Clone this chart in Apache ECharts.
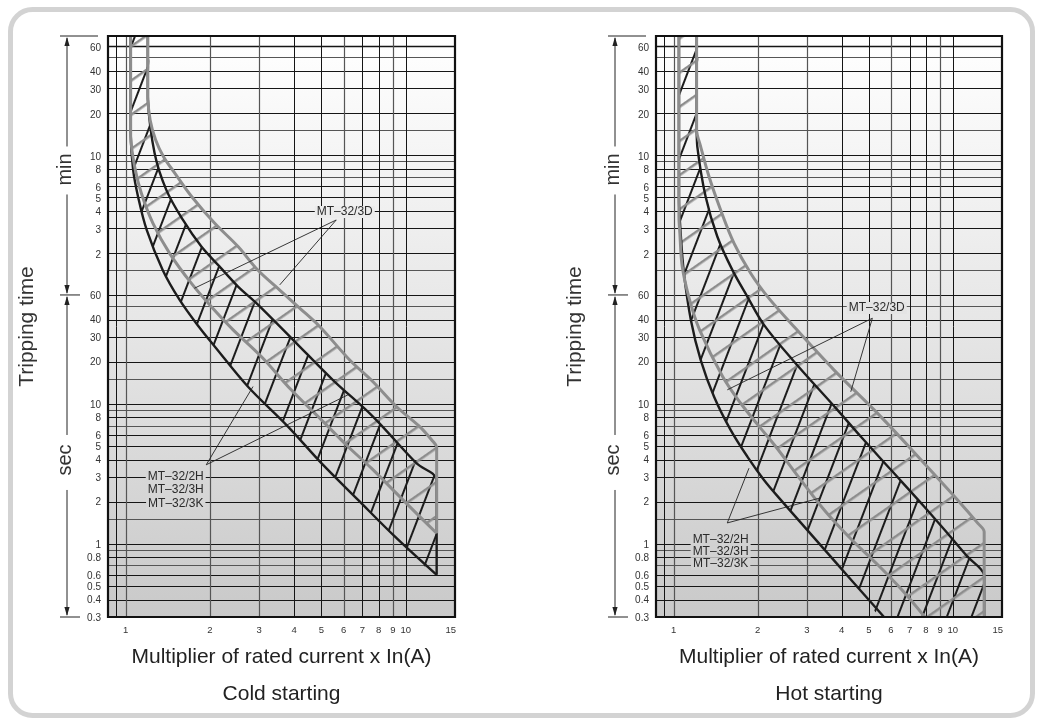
<!DOCTYPE html>
<html><head><meta charset="utf-8">
<script src="https://cdn.jsdelivr.net/npm/echarts@6/dist/echarts.min.js"></script>
<style>html,body{margin:0;padding:0;background:#fff}#c{width:1041px;height:721px}</style>
</head><body><div id="c"></div>
<script>
// ---------------- data ----------------
const panelTitles = ['Cold starting', 'Hot starting'];
const xAxisTitle = 'Multiplier of rated current x In(A)';
const yAxisTitle = 'Tripping time';
const xTicks = [1, 2, 3, 4, 5, 6, 7, 8, 9, 10, 15];
const xGridBlack = [0.925, 4, 5, 7, 8, 10];
const xGridGray = [1, 2, 3, 6, 9];
const ySecTicks = [0.3, 0.4, 0.5, 0.6, 0.8, 1, 2, 3, 4, 5, 6, 8, 10, 20, 30, 40, 60];
const ySecTickText = ['0.3', '0.4', '0.5', '0.6', '0.8', '1', '2', '3', '4', '5', '6', '8', '10', '20', '30', '40', '60'];
const yMinTicks = [2, 3, 4, 5, 6, 8, 10, 20, 30, 40, 60];          // minutes
const ySecGridGray = [0.7, 0.9, 1.5, 7, 9, 15, 50];               // seconds
const yMinGridGray = [1.5, 7, 9, 15, 50];                          // minutes

// curves: [multiplier, tripping time in seconds]
const coldBlackUpper = [[1.20,4250],[1.20,1500],[1.269,617],[1.397,338],[1.602,206],[1.864,133],[2.166,95.7],[2.52,68.9],[2.93,52.4],[3.96,28.7],[5.50,14.8],[7.64,8.11],[10.92,3.77],[12.9,2.86],[12.9,0.60]];
const coldBlackLower = [[1.042,4250],[1.042,860],[1.0636,469],[1.108,301],[1.189,175],[1.356,90.6],[1.559,55.3],[1.823,35.7],[2.08,25.7],[2.73,13.3],[3.80,6.88],[5.0,3.77],[6.76,2.06],[9.14,1.13],[12.9,0.60]];
const coldGrayUpper = [[1.20,4250],[1.20,1570],[1.223,1068],[1.28,769],[1.367,581],[1.50,444],[1.72,303],[2.08,195],[2.52,133],[2.97,90],[3.55,65],[4.2,48],[4.93,35.7],[6.31,20.6],[7.64,14.4],[9.3,9.5],[11.2,6.9],[12.5,5.4],[12.9,4.9],[12.9,1.19]];
const coldGrayLower = [[1.042,4250],[1.042,820],[1.077,495],[1.138,320],[1.252,195],[1.436,119],[1.715,72.8],[2.02,49.6],[2.42,33.8],[3.05,21.8],[3.9,12.6],[5.0,7.69],[6.22,4.96],[7.54,3.47],[9.14,2.36],[10.77,1.70],[12.9,1.19]];

const hotBlackUpper = [[1.209,4250],[1.209,1000],[1.216,689],[1.302,303],[1.434,157],[1.623,90.6],[1.837,58.4],[2.107,36.7],[2.67,20.6],[3.86,9.06],[4.68,5.84],[6.0,3.38],[7.89,1.85],[9.57,1.19],[11.29,0.81],[12.95,0.6],[12.95,0.3]];
const hotBlackLower = [[1.045,4250],[1.045,300],[1.06,166],[1.089,85.8],[1.153,39.8],[1.25,20.6],[1.395,11.3],[1.6,6.52],[1.837,4.2],[2.107,2.86],[2.42,2.06],[2.782,1.501],[3.228,1.071],[3.871,0.710],[4.68,0.462],[5.67,0.3]];
const hotGrayUpper = [[1.209,4250],[1.209,906],[1.25,689],[1.339,421],[1.474,243],[1.645,141],[1.888,85.8],[2.17,58.4],[2.63,37.7],[3.75,17.5],[5.52,8.11],[7.89,3.77],[10.4,2.06],[12.3,1.4],[12.95,1.22],[12.95,0.3]];
const hotGrayLower = [[1.045,4250],[1.045,220],[1.053,166],[1.074,95.7],[1.141,55.3],[1.239,33.8],[1.498,15.7],[1.739,10.1],[2.0,7.11],[2.32,4.96],[2.853,2.865],[3.506,1.693],[4.345,1.068],[5.385,0.708],[6.565,0.469],[7.94,0.3]];

// annotation texts and anchor points (data coordinates)
const labelD = 'MT–32/3D';
const labelsH = ['MT–32/2H', 'MT–32/3H', 'MT–32/3K'];
const coldAnn = {
  dAt: [6.06, 235], dBg: '#ececec',
  dLeaders: [[[5.65,206],[1.76,67]], [[5.65,206],[3.55,70.8]]],
  hAt: [[1.51,3.03],[1.51,2.43],[1.51,1.95]], hBg: '#d6d6d6',
  hLeaders: [[[1.94,3.67],[2.85,13.3]], [[1.94,3.67],[6.22,11.6]]]
};
const hotAnn = {
  dAt: [5.34, 48.5], dBg: '#e4e4e4',
  dLeaders: [[[5.15,40.9],[1.557,12.6]], [[5.15,40.9],[4.31,12.2]]],
  hAt: [[1.474,1.068],[1.474,0.877],[1.474,0.72]], hBg: '#d2d2d2',
  hLeaders: [[[1.557,1.41],[1.862,3.47]], [[1.557,1.41],[3.36,2.13]]]
};

// ---------------- chart ----------------
const X_MIN = 0.865, X_MAX = 15, T_MIN = 0.3, T_MAX = 4250;
const BLACK = '#1c1c1c', GRAY = '#8d8d8d';
const FONT = '"Liberation Sans", Arial, sans-serif';
const SM = 0.35;
const SC = [[1e9, 1e9], [-1e9, -1e9]];   // clamp smoothing to the points' own bounding box

function mkPattern(color, lw, spacing, angleDeg) {
  const c = document.createElement('canvas');
  c.width = 16; c.height = spacing;
  const g = c.getContext('2d');
  g.fillStyle = color;
  g.fillRect(0, 0, 16, lw);
  return { image: c, repeat: 'repeat', rotation: -angleDeg * Math.PI / 180 };
}
const blackHatch = mkPattern(BLACK, 2, 23, 69);
const grayHatch = mkPattern(GRAY, 2.5, 28, 35);

const panels = [
  { bu: coldBlackUpper, bl: coldBlackLower, gu: coldGrayUpper, gl: coldGrayLower, ann: coldAnn },
  { bu: hotBlackUpper, bl: hotBlackLower, gu: hotGrayUpper, gl: hotGrayLower, ann: hotAnn }
];

const snap = v => Math.round(v) + 0.5;

function gridRenderer(params, api) {
  const cs = params.coordSys;
  const ch = [];
  const h = (t, color, w) => {
    const y = snap(api.coord([X_MIN, t])[1]);
    ch.push({ type: 'line', shape: { x1: cs.x, y1: y, x2: cs.x + cs.width, y2: y }, style: { stroke: color, lineWidth: w } });
  };
  const v = (x0, color, w) => {
    const x = snap(api.coord([x0, T_MIN])[0]);
    ch.push({ type: 'line', shape: { x1: x, y1: cs.y, x2: x, y2: cs.y + cs.height }, style: { stroke: color, lineWidth: w } });
  };
  ySecGridGray.forEach(t => h(t, '#555555', 1.2));
  yMinGridGray.forEach(m => h(m * 60, '#555555', 1.2));
  ySecTicks.forEach(t => { if (t > T_MIN) h(t, '#151515', 1); });
  yMinTicks.forEach(m => h(m * 60, '#151515', m === 60 ? 1.6 : 1));
  xGridGray.forEach(x => v(x, '#555555', 1.2));
  xGridBlack.forEach(x => v(x, '#151515', 1));
  return { type: 'group', children: ch };
}

function polyPoints(api, upper, lower) {
  const up = upper.map(p => api.coord(p));
  const lo = lower.map(p => api.coord(p));
  const lu = upper[upper.length - 1], ll = lower[lower.length - 1];
  if (lu[0] === ll[0] && lu[1] === ll[1]) lo.pop();
  return up.concat(lo.reverse());
}

function fillRenderer(upper, lower, pattern) {
  return function (params, api) {
    return { type: 'polygon', shape: { points: polyPoints(api, upper, lower), smooth: SM, smoothConstraint: SC },
      style: { fill: pattern, stroke: null } };
  };
}

function lineRenderer(curves, color, w) {
  return function (params, api) {
    return { type: 'group', children: curves.map(c => ({
      type: 'polyline', shape: { points: c.map(p => api.coord(p)), smooth: SM, smoothConstraint: SC },
      style: { stroke: color, lineWidth: w, fill: null, lineJoin: 'round' }
    })) };
  };
}

function annRenderer(ann) {
  return function (params, api) {
    const ch = [];
    const seg = (a, b) => {
      const p = api.coord(a), q = api.coord(b);
      ch.push({ type: 'line', shape: { x1: p[0], y1: p[1], x2: q[0], y2: q[1] }, style: { stroke: '#222', lineWidth: 0.9 } });
    };
    ann.dLeaders.forEach(l => seg(l[0], l[1]));
    ann.hLeaders.forEach(l => seg(l[0], l[1]));
    const txt = (at, s, bg) => {
      const p = api.coord(at);
      ch.push({ type: 'text', x: p[0], y: p[1], style: { text: s, fill: '#2a2a2a', fontSize: 12, fontFamily: FONT,
        align: 'center', verticalAlign: 'middle', backgroundColor: bg, padding: [0, 2] } });
    };
    txt(ann.dAt, labelD, ann.dBg);
    ann.hAt.forEach((at, i) => txt(at, labelsH[i], ann.hBg));
    return { type: 'group', children: ch };
  };
}

function frameRenderer(params, api) {
  const cs = params.coordSys;
  const ch = [];
  const L = cs.x, top = cs.y, bot = cs.y + cs.height;
  ch.push({ type: 'rect', shape: { x: L, y: top, width: cs.width, height: cs.height },
    style: { stroke: '#111', lineWidth: 2.2, fill: null } });
  const tx = (x, y, s, align, size, extra) => ch.push(Object.assign({ type: 'text', x: x, y: y,
    style: { text: s, fill: '#333', fontSize: size, fontFamily: FONT, align: align, verticalAlign: 'middle' } }, extra || {}));
  ySecTicks.forEach((t, i) => tx(L - 7, api.coord([X_MIN, t])[1] + 1, ySecTickText[i], 'right', 10));
  yMinTicks.forEach(m => tx(L - 7, api.coord([X_MIN, m * 60])[1] + 2, String(m), 'right', 10));
  xTicks.forEach(v => {
    const x = api.coord([v, T_MIN])[0];
    tx(v === X_MAX ? x + 1 : x, bot + 13, String(v), v === X_MAX ? 'right' : 'center', 9.5);
  });
  const y60 = api.coord([X_MIN, 60])[1];
  const ax = L - 41;
  const ln = (x1, y1, x2, y2) => ch.push({ type: 'line', shape: { x1: x1, y1: y1, x2: x2, y2: y2 }, style: { stroke: '#222', lineWidth: 1 } });
  const arrow = (y, dir) => ch.push({ type: 'polygon', shape: { points: [[ax, y], [ax - 2.6, y + dir * 9], [ax + 2.6, y + dir * 9]] }, style: { fill: '#222' } });
  const minMid = (top + y60) / 2 + 4, secMid = (y60 + bot) / 2 + 4;
  ln(L - 48, top, L - 10, top);
  ln(L - 48, y60, L - 28, y60);
  ln(L - 48, bot, L - 28, bot);
  ln(ax, top + 2, ax, minMid - 23); ln(ax, minMid + 25, ax, y60 - 2);
  ln(ax, y60 + 2, ax, secMid - 25); ln(ax, secMid + 30, ax, bot - 2);
  arrow(top + 1, 1); arrow(y60 - 1, -1); arrow(y60 + 1, 1); arrow(bot - 1, -1);
  tx(ax - 2, minMid, 'min', 'center', 20, { rotation: Math.PI / 2 });
  tx(ax - 2, secMid, 'sec', 'center', 20, { rotation: Math.PI / 2 });
  tx(L - 81, (top + bot) / 2, yAxisTitle, 'center', 21, { rotation: Math.PI / 2 });
  return { type: 'group', children: ch };
}

const grids = [
  { left: 108, top: 36, width: 347, height: 581 },
  { left: 656, top: 36, width: 346, height: 581 }
];
const bgGrad = { type: 'linear', x: 0, y: 0, x2: 0, y2: 1,
  colorStops: [{ offset: 0, color: '#ffffff' }, { offset: 0.5, color: '#e6e6e6' }, { offset: 1, color: '#c9c9c9' }] };

const series = [];
panels.forEach((p, i) => {
  const base = { type: 'custom', coordinateSystem: 'cartesian2d', xAxisIndex: i, yAxisIndex: i, data: [[1, 1]], silent: true, animation: false };
  series.push(Object.assign({}, base, { z: 1, renderItem: gridRenderer }));
  series.push(Object.assign({}, base, { z: 2, clip: true, renderItem: fillRenderer(p.bu, p.bl, blackHatch) }));
  series.push(Object.assign({}, base, { z: 3, clip: true, renderItem: fillRenderer(p.gu, p.gl, grayHatch) }));
  series.push(Object.assign({}, base, { z: 4, clip: true, renderItem: lineRenderer([p.bu, p.bl], BLACK, 2.4) }));
  series.push(Object.assign({}, base, { z: 5, clip: true, renderItem: lineRenderer([p.gu, p.gl], GRAY, 3) }));
  series.push(Object.assign({}, base, { z: 6, renderItem: annRenderer(p.ann) }));
  series.push(Object.assign({}, base, { z: 7, renderItem: frameRenderer }));
});

const axisHidden = { axisLine: { show: false }, axisTick: { show: false }, axisLabel: { show: false }, splitLine: { show: false } };
const option = {
  animation: false,
  backgroundColor: '#ffffff',
  grid: grids.map(g => Object.assign({ show: true, backgroundColor: bgGrad, borderWidth: 0 }, g)),
  xAxis: grids.map((g, i) => Object.assign({ type: 'log', logBase: 10, gridIndex: i, min: X_MIN, max: X_MAX,
    name: xAxisTitle, nameLocation: 'middle', nameGap: 30,
    nameTextStyle: { fontSize: 21, color: '#222', fontFamily: FONT } }, axisHidden)),
  yAxis: grids.map((g, i) => Object.assign({ type: 'log', logBase: 10, gridIndex: i, min: T_MIN, max: T_MAX }, axisHidden)),
  graphic: [
    { type: 'rect', shape: { x: 10.5, y: 9.5, width: 1022, height: 706, r: 22 }, style: { fill: null, stroke: '#d3d3d3', lineWidth: 5 }, z: -10 },
    { type: 'text', x: 281.5, y: 694, style: { text: panelTitles[0], fontSize: 21, fontFamily: FONT, fill: '#222', align: 'center', verticalAlign: 'middle' } },
    { type: 'text', x: 829, y: 694, style: { text: panelTitles[1], fontSize: 21, fontFamily: FONT, fill: '#222', align: 'center', verticalAlign: 'middle' } }
  ],
  series: series
};
const chart = echarts.init(document.getElementById('c'));
chart.setOption(option);
</script></body></html>
